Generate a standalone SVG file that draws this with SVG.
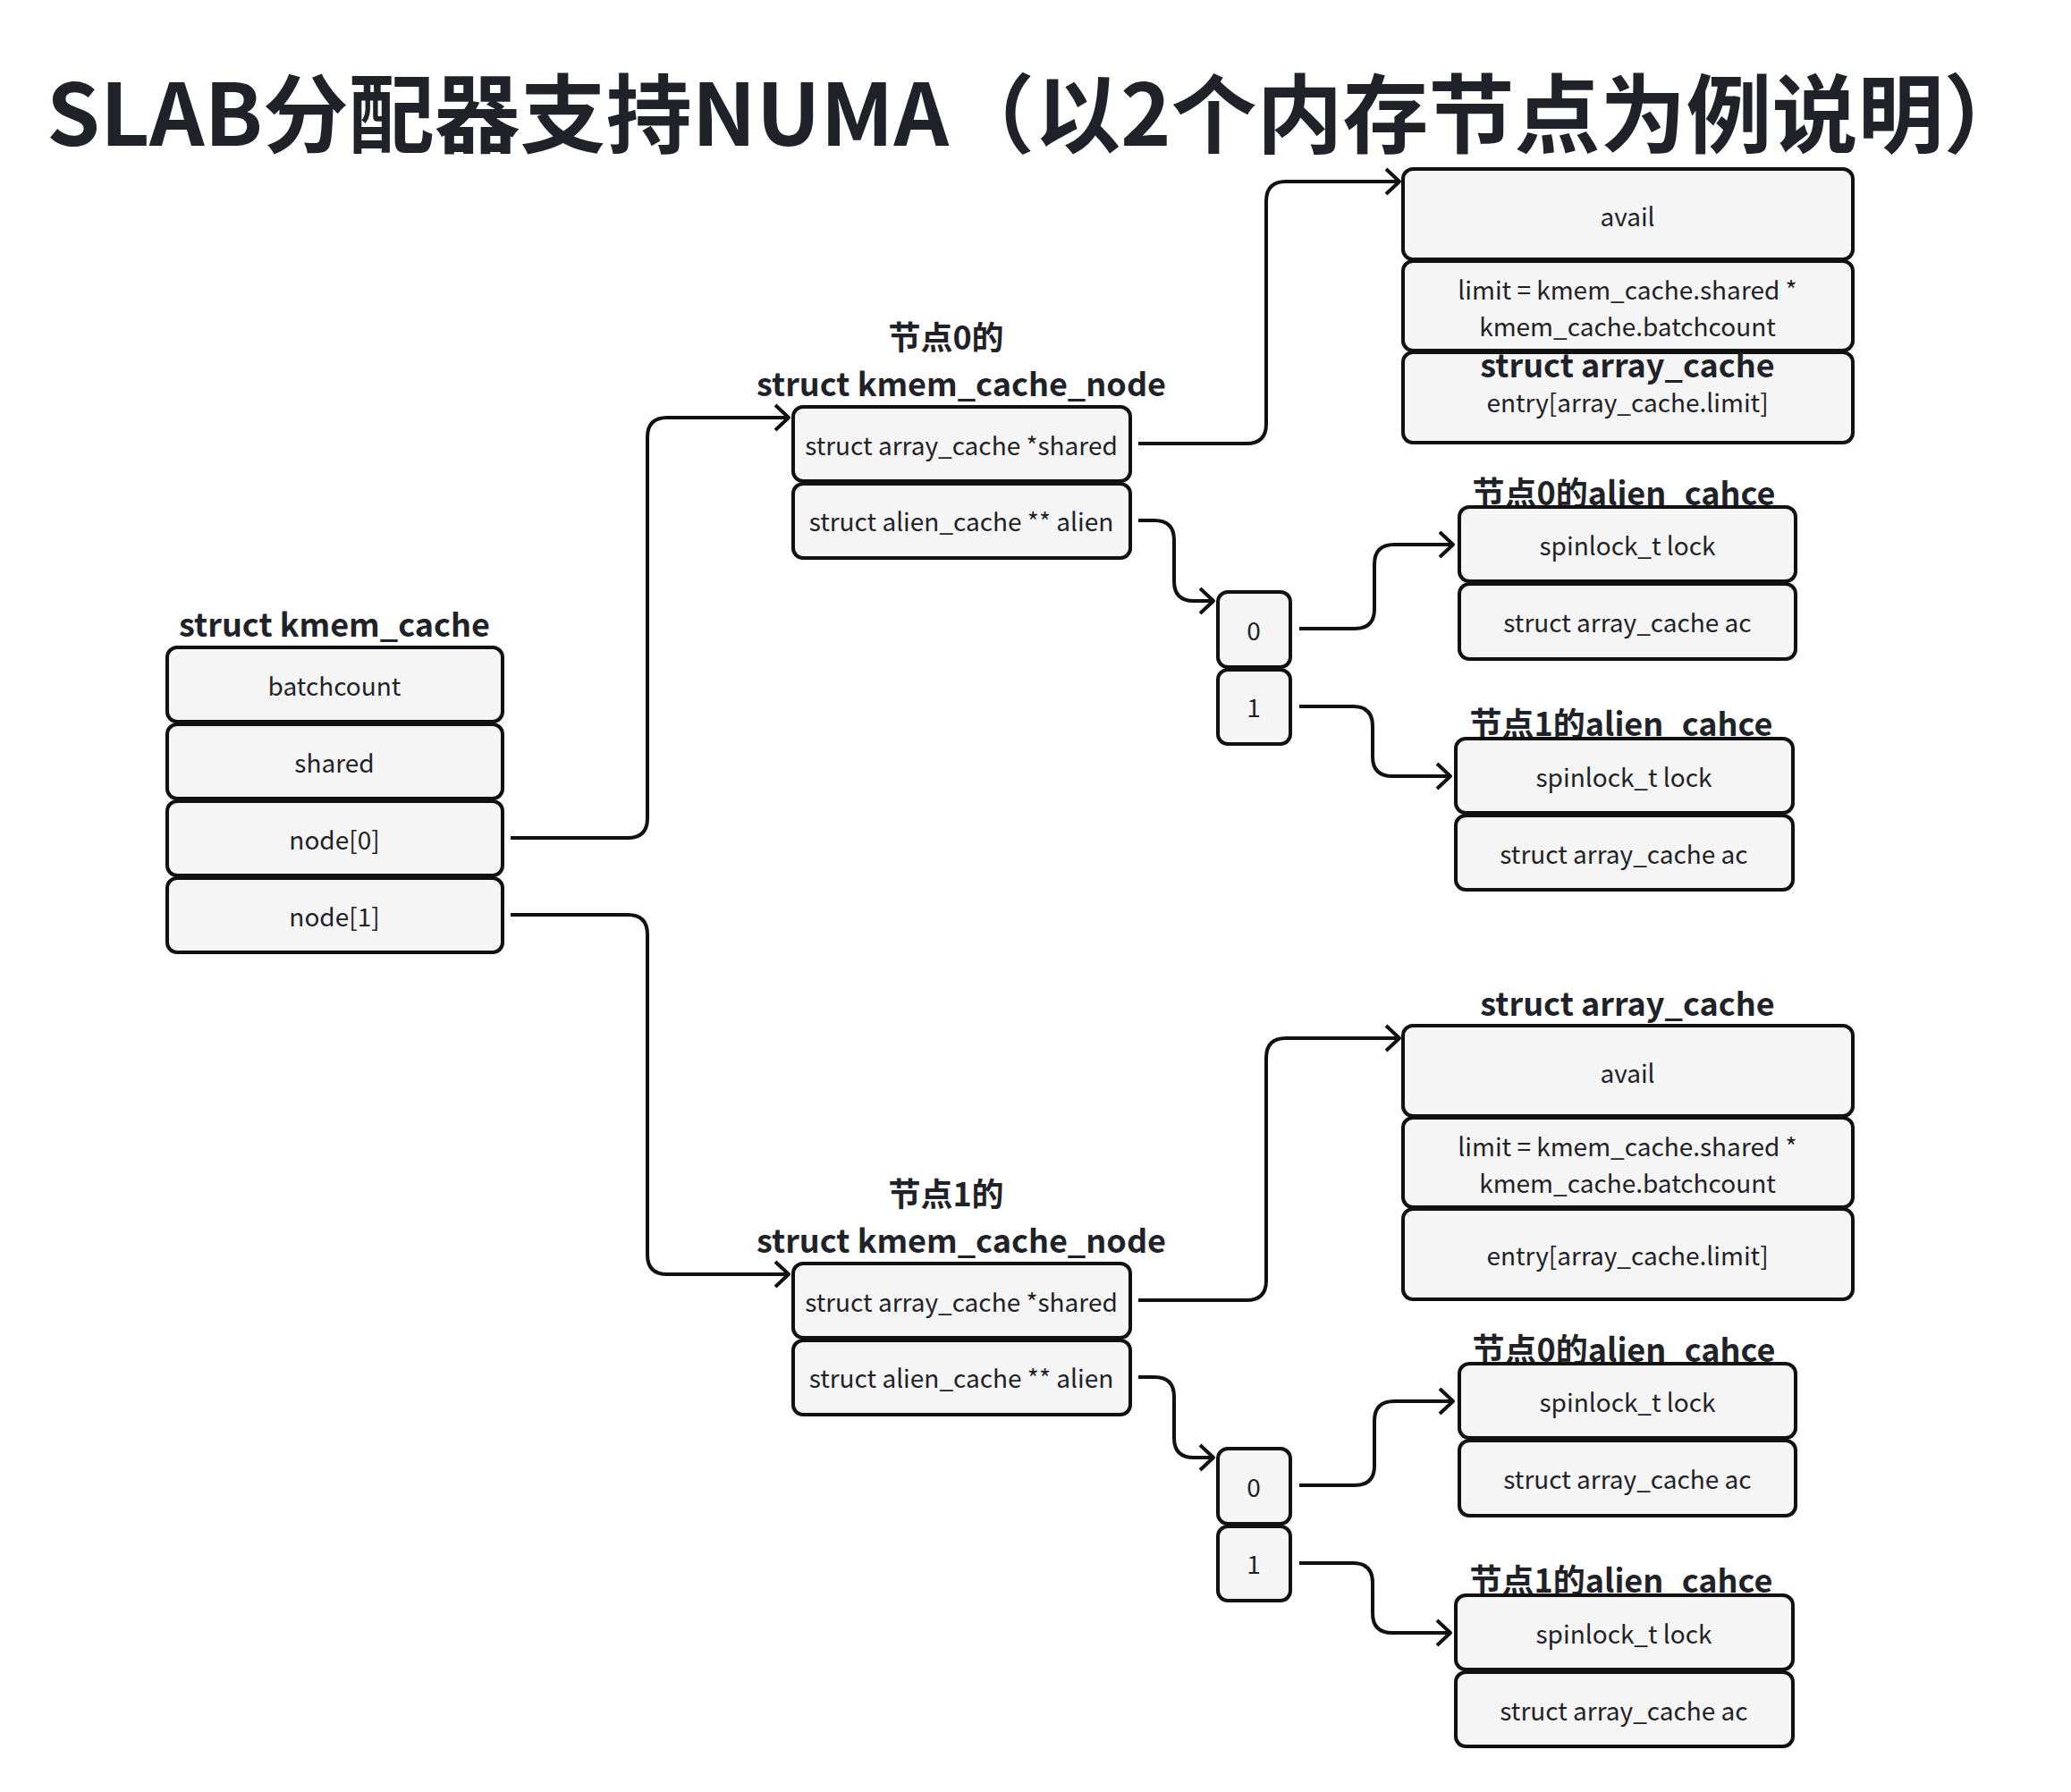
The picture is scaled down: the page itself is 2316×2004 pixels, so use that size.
<svg xmlns="http://www.w3.org/2000/svg" width="2316" height="2004" viewBox="0 0 2316 2004">
<style>
text{font-family:"Noto Sans CJK SC","Noto Sans",sans-serif;fill:#1f2329}
.t{font-size:28px;text-anchor:middle;dominant-baseline:central}
.h{font-size:36px;font-weight:bold;text-anchor:middle;dominant-baseline:central}
.b{fill:#f5f5f5;stroke:#111;stroke-width:4}
.c{fill:none;stroke:#111;stroke-width:4;marker-end:url(#ah)}
</style>
<defs>
<marker id="ah" markerUnits="userSpaceOnUse" markerWidth="32" markerHeight="34" refX="18" refY="16" orient="auto" viewBox="0 0 32 34">
<path d="M3,2 L18,16 L3,30" fill="none" stroke="#111" stroke-width="4" stroke-linejoin="round"/>
</marker>
</defs>
<rect width="2316" height="2004" fill="#fff"/>
<text x="52" y="121" style="font-size:96px;font-weight:bold;dominant-baseline:central">SLAB分配器支持NUMA（以2个内存节点为例说明）</text>

<g id="kmem_cache">
<text class="h" x="374" y="696">struct kmem_cache</text>
<rect class="b" x="187" y="724" width="375" height="83" rx="11"/>
<text class="t" x="374" y="766">batchcount</text>
<rect class="b" x="187" y="810" width="375" height="83" rx="11"/>
<text class="t" x="374" y="852">shared</text>
<rect class="b" x="187" y="896" width="375" height="83" rx="11"/>
<text class="t" x="374" y="938">node[0]</text>
<rect class="b" x="187" y="982" width="375" height="83" rx="11"/>
<text class="t" x="374" y="1024">node[1]</text>
</g>

<g id="node0_kmem_cache_node">
<text class="h" x="1058" y="375">节点0的</text>
<text class="h" x="1075" y="427">struct kmem_cache_node</text>
<rect class="b" x="887" y="455" width="377" height="83" rx="11"/>
<text class="t" x="1075" y="497">struct array_cache *shared</text>
<rect class="b" x="887" y="541" width="377" height="83" rx="11"/>
<text class="t" x="1075" y="582">struct alien_cache ** alien</text>
</g>

<g id="node0_array_cache">
<rect class="b" x="1569" y="189" width="503" height="101" rx="11"/>
<text class="t" x="1820" y="241">avail</text>
<rect class="b" x="1569" y="292" width="503" height="100" rx="11"/>
<text class="t" x="1820" y="323">limit = kmem_cache.shared *</text>
<text class="t" x="1820" y="364">kmem_cache.batchcount</text>
<rect class="b" x="1569" y="394" width="503" height="101" rx="11"/>
<text class="h" x="1820" y="406">struct array_cache</text>
<text class="t" x="1820" y="449">entry[array_cache.limit]</text>
</g>

<g id="node0_alien_index">
<rect class="b" x="1362" y="662" width="81" height="84" rx="11"/>
<text class="t" x="1402" y="704">0</text>
<rect class="b" x="1362" y="749" width="81" height="83" rx="11"/>
<text class="t" x="1402" y="790">1</text>
</g>

<g id="node0_alien0">
<text class="h" x="1816" y="549">节点0的alien_cahce</text>
<rect class="b" x="1632" y="567" width="376" height="83" rx="11"/>
<text class="t" x="1820" y="609">spinlock_t lock</text>
<rect class="b" x="1632" y="653" width="376" height="84" rx="11"/>
<text class="t" x="1820" y="695">struct array_cache ac</text>
</g>

<g id="node0_alien1">
<text class="h" x="1813" y="807">节点1的alien_cahce</text>
<rect class="b" x="1628" y="826" width="377" height="83" rx="11"/>
<text class="t" x="1816" y="868">spinlock_t lock</text>
<rect class="b" x="1628" y="912" width="377" height="83" rx="11"/>
<text class="t" x="1816" y="954">struct array_cache ac</text>
</g>

<g id="node1_kmem_cache_node">
<text class="h" x="1058" y="1333">节点1的</text>
<text class="h" x="1075" y="1385">struct kmem_cache_node</text>
<rect class="b" x="887" y="1413" width="377" height="83" rx="11"/>
<text class="t" x="1075" y="1455">struct array_cache *shared</text>
<rect class="b" x="887" y="1499" width="377" height="83" rx="11"/>
<text class="t" x="1075" y="1540">struct alien_cache ** alien</text>
</g>

<g id="node1_array_cache">
<text class="h" x="1820" y="1120">struct array_cache</text>
<rect class="b" x="1569" y="1147" width="503" height="101" rx="11"/>
<text class="t" x="1820" y="1199">avail</text>
<rect class="b" x="1569" y="1250" width="503" height="100" rx="11"/>
<text class="t" x="1820" y="1281">limit = kmem_cache.shared *</text>
<text class="t" x="1820" y="1322">kmem_cache.batchcount</text>
<rect class="b" x="1569" y="1352" width="503" height="101" rx="11"/>
<text class="t" x="1820" y="1403">entry[array_cache.limit]</text>
</g>

<g id="node1_alien_index">
<rect class="b" x="1362" y="1620" width="81" height="84" rx="11"/>
<text class="t" x="1402" y="1662">0</text>
<rect class="b" x="1362" y="1707" width="81" height="83" rx="11"/>
<text class="t" x="1402" y="1748">1</text>
</g>

<g id="node1_alien0">
<text class="h" x="1816" y="1507">节点0的alien_cahce</text>
<rect class="b" x="1632" y="1525" width="376" height="83" rx="11"/>
<text class="t" x="1820" y="1567">spinlock_t lock</text>
<rect class="b" x="1632" y="1611" width="376" height="84" rx="11"/>
<text class="t" x="1820" y="1653">struct array_cache ac</text>
</g>

<g id="node1_alien1">
<text class="h" x="1813" y="1765">节点1的alien_cahce</text>
<rect class="b" x="1628" y="1784" width="377" height="83" rx="11"/>
<text class="t" x="1816" y="1826">spinlock_t lock</text>
<rect class="b" x="1628" y="1870" width="377" height="83" rx="11"/>
<text class="t" x="1816" y="1912">struct array_cache ac</text>
</g>

<g id="connectors">
<path class="c" d="M571,937 H702 Q724,937 724,915 V489 Q724,467 746,467 H882"/>
<path class="c" d="M571,1023 H702 Q724,1023 724,1045 V1403 Q724,1425 746,1425 H882"/>
<path class="c" d="M1273,496 H1394 Q1416,496 1416,474 V225 Q1416,203 1438,203 H1565"/>
<path class="c" d="M1273,582 H1291 Q1313,582 1313,604 V650 Q1313,672 1335,672 H1357"/>
<path class="c" d="M1453,703 H1515 Q1537,703 1537,681 V631 Q1537,609 1559,609 H1625"/>
<path class="c" d="M1453,790 H1513 Q1535,790 1535,812 V846 Q1535,868 1557,868 H1622"/>
<path class="c" d="M1273,1454 H1394 Q1416,1454 1416,1432 V1183 Q1416,1161 1438,1161 H1565"/>
<path class="c" d="M1273,1540 H1291 Q1313,1540 1313,1562 V1608 Q1313,1630 1335,1630 H1357"/>
<path class="c" d="M1453,1661 H1515 Q1537,1661 1537,1639 V1589 Q1537,1567 1559,1567 H1625"/>
<path class="c" d="M1453,1748 H1513 Q1535,1748 1535,1770 V1804 Q1535,1826 1557,1826 H1622"/>
</g>
</svg>
